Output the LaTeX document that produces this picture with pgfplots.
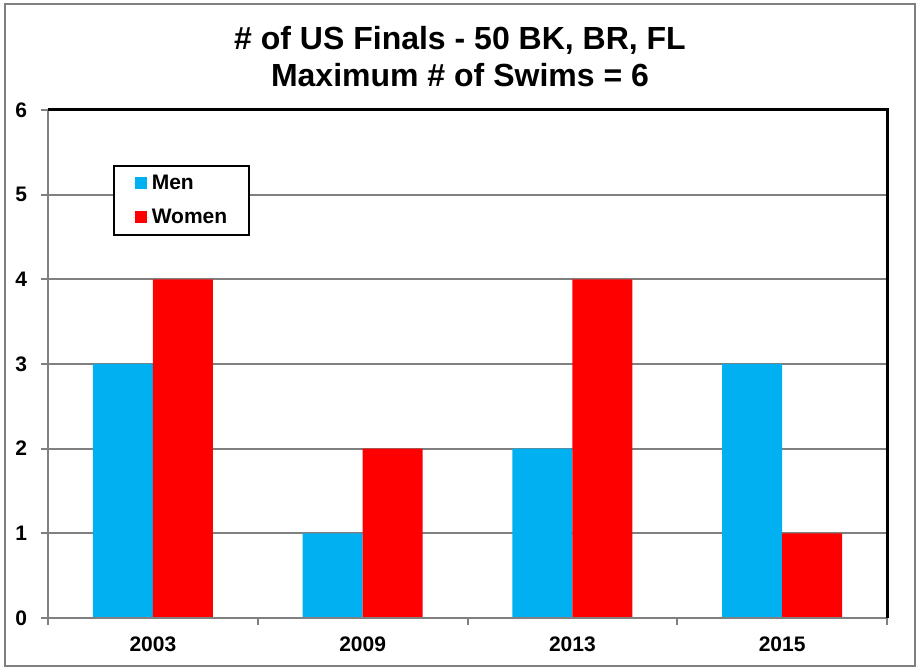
\documentclass[border=0pt]{standalone}
\usepackage{fontspec}
\setmainfont{Liberation Sans}
\usepackage{pgfplots}
\pgfplotsset{compat=1.18}
\definecolor{menblue}{RGB}{0,176,240}
\definecolor{womenred}{RGB}{255,0,0}
\definecolor{grline}{RGB}{128,128,128}
\begin{document}
\begin{tikzpicture}[x=0.75pt,y=0.75pt]
\path[use as bounding box] (0,0) rectangle (920,671);
\draw[grline, line width=1.5pt] (5,5) rectangle (915,667);
\node[anchor=base, font=\bfseries\fontsize{24pt}{28pt}\selectfont] at (460,621) {\# of US Finals - 50 BK, BR, FL};
\node[anchor=base, font=\bfseries\fontsize{24pt}{28pt}\selectfont] at (460,584.5) {Maximum \# of Swims = 6};
\begin{axis}[
  at={(36pt,39.75pt)}, anchor=south west,
  scale only axis, width=629.25pt, height=381pt,
  ybar=0pt, bar width=45pt,
  xmin=-0.5, xmax=3.5, ymin=0, ymax=6,
  xtick={0,1,2,3}, xticklabels={2003,2009,2013,2015},
  xtick pos=bottom, ytick pos=left,
  major x tick style={draw=none},
  minor xtick={-0.5,0.5,1.5,2.5,3.5},
  minor x tick style={grline, line width=1.5pt},
  minor tick length=5.25pt,
  ytick={0,1,2,3,4,5,6},
  major y tick style={grline, line width=1.5pt},
  major tick length=5.25pt,
  tick align=outside,
  ymajorgrids, major grid style={grline, line width=1.5pt},
  axis line style={draw=none},
  /pgf/number format/assume math mode=true,
  tick label style={font=\bfseries\fontsize{15.75pt}{18pt}\selectfont, inner sep=0pt},
  yticklabel style={xshift=-10.3pt},
  xticklabel style={yshift=-8.8pt},
  legend style={at={(0.078,0.892)}, anchor=north west, draw=black, line width=1.5pt,
    font=\bfseries\fontsize{15.75pt}{18pt}\selectfont, inner xsep=14pt, inner ysep=5pt,
    row sep=9pt},
  legend image code/.code={\path (0pt,0pt) -- (12pt,0pt); \fill[#1] (1.5pt,-4.5pt) rectangle (10.5pt,4.5pt);},
  legend cell align=left,
  clip=false,
]
\addplot[fill=menblue, draw=none] coordinates {(0,3) (1,1) (2,2) (3,3)};
\addplot[fill=womenred, draw=none] coordinates {(0,4) (1,2) (2,4) (3,1)};
\legend{Men,Women}
\draw[grline, line width=1.5pt] (rel axis cs:0,1) -- (rel axis cs:0,0) -- (rel axis cs:1,0);
\draw[black, line width=2.25pt] (rel axis cs:0,1) -- (rel axis cs:1,1) -- (rel axis cs:1,0);
\end{axis}
\end{tikzpicture}
\end{document}
